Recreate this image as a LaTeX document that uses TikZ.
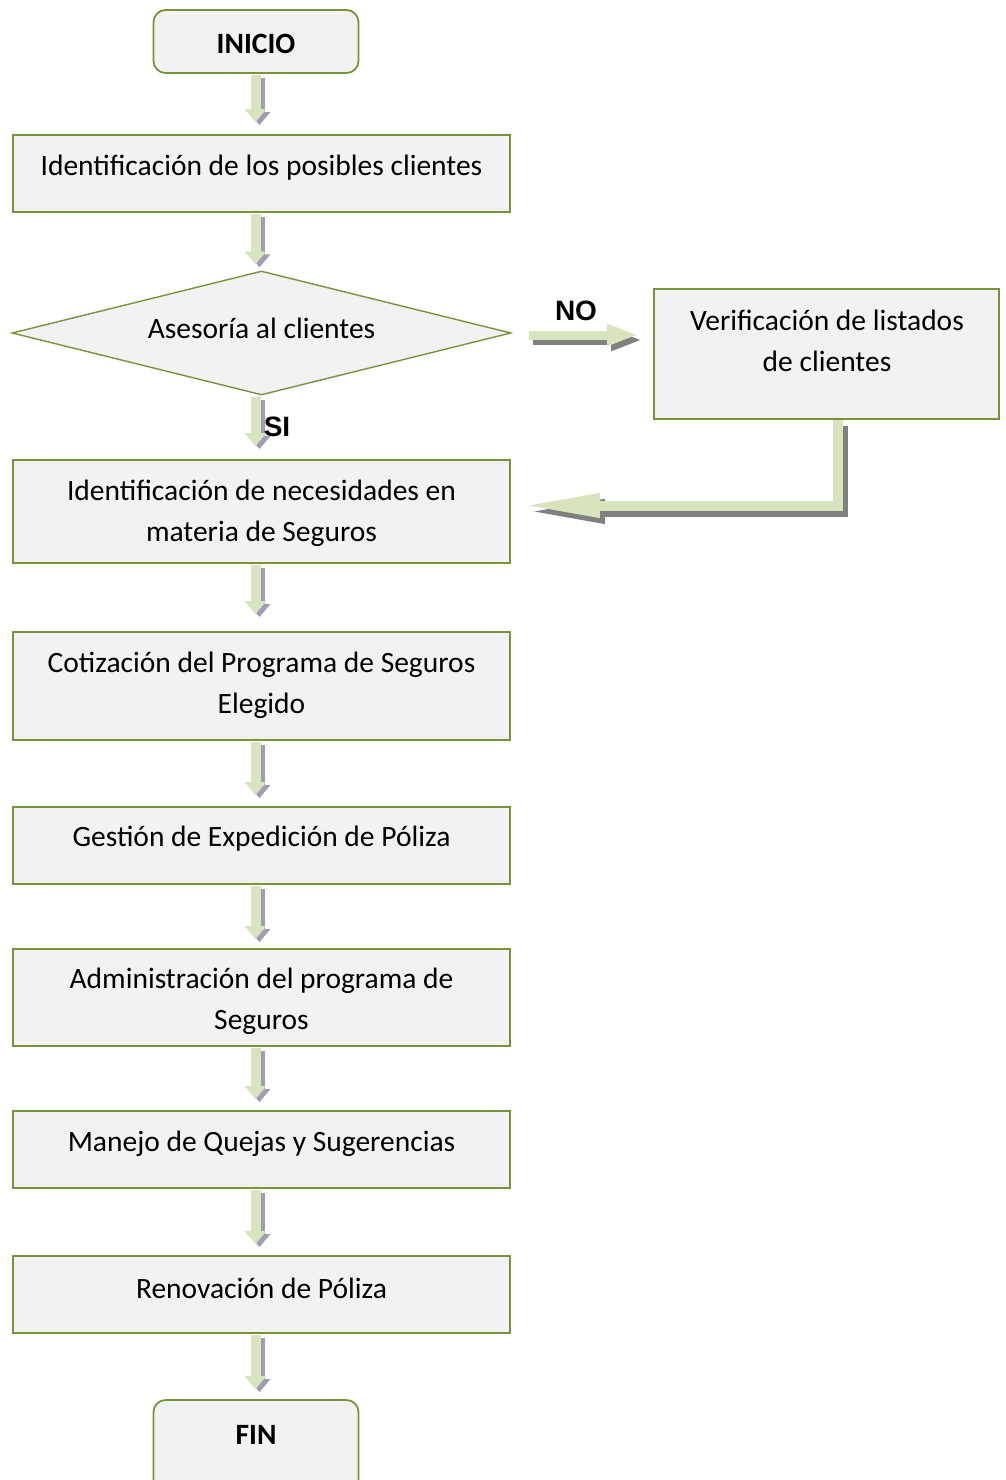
\documentclass[tikz,border=0pt]{standalone}
\usepackage{fontspec}
\setmainfont{Carlito}
\newfontfamily\labelfont{Liberation Sans}
\usetikzlibrary{arrows.meta,shapes.geometric,calc}
\definecolor{boxfill}{HTML}{F2F2F2}
\definecolor{boxline}{HTML}{77933C}
\definecolor{arrowgreen}{HTML}{D7E4BD}
\definecolor{shadowlav}{HTML}{A09CB4}
\definecolor{shadowgray}{HTML}{808080}

% block arrow pointing down from node #1 to node #2 (gap #3 above target)
\newcommand\downflow[3]{%
  \draw[flowdown, draw=shadowlav, transform canvas={shift={(4pt,-3pt)}}]
    ($(axis |- #1.south)+(0,1)$) -- ($(axis |- #2.north)+(0,-#3)$);
  \draw[flowdown, draw=arrowgreen]
    ($(axis |- #1.south)+(0,1)$) -- ($(axis |- #2.north)+(0,-#3)$);
}

\begin{document}
\begin{tikzpicture}[x=1pt,y=-1pt,
  font=\fontsize{29.5}{41}\selectfont,
  box/.style={draw=boxline, fill=boxfill, line width=1.8pt, minimum width=497, inner sep=0},
  terminal/.style={box, rounded corners=12pt, minimum width=205},
  txt/.style={align=center, inner sep=0},
  bold/.style={txt, font=\fontsize{29.5}{41}\selectfont\bfseries},
  decision/.style={txt, font=\fontsize{28}{34}\selectfont\labelfont\bfseries},
  flowdown/.style={line width=10pt, -{Triangle[length=13pt,width=21pt]}},
  flowside/.style={line width=9pt, line join=miter, -{Triangle[length=31pt,width=20pt]}},
  flowback/.style={line width=10pt, line join=miter, -{Triangle[length=78pt,width=22pt]}},
]
\useasboundingbox (0,0) rectangle (1006,1480);
\fill[white] (0,0) rectangle (1006,1480);
\clip (0,0) rectangle (1006,1480);

\coordinate (axis) at (255.5,0);

% terminals
\node[terminal, minimum height=63] (start) at (256,41.5) {};
\node[bold] (tstart) at (256,43.5) {INICIO};
\node[terminal, minimum height=92] (end) at (256,1446) {};
\node[bold] (tend) at (256,1434.5) {FIN};

% process boxes
\node[box, minimum height=77] (b1) at (261.5,173.5) {};
\node[txt] (t1) at (261.5,167.5) {Identificación de los posibles clientes};

\node[diamond, draw=boxline, fill=boxfill, line width=1.4pt, minimum width=499, minimum height=124, inner sep=0] (d) at (261.5,333) {};
\node[txt] (td) at (261.5,328) {Asesoría al clientes};

\node[box, minimum width=345, minimum height=130] (ver) at (826.5,354) {};
\node[txt] (tv) at (827,341) {Verificación de listados\\de clientes};

\node[box, minimum height=103] (b3) at (261.5,511.5) {};
\node[txt] (t3) at (261.5,513) {Identificación de necesidades en\\materia de Seguros};

\node[box, minimum height=108] (b4) at (261.5,686) {};
\node[txt] (t4) at (261.5,685) {Cotización del Programa de Seguros\\Elegido};

\node[box, minimum height=77] (b5) at (261.5,845.5) {};
\node[txt] (t5) at (261.5,838.5) {Gestión de Expedición de Póliza};

\node[box, minimum height=97] (b6) at (261.5,997.5) {};
\node[txt] (t6) at (261.5,1001.5) {Administración del programa de\\Seguros};

\node[box, minimum height=77] (b7) at (261.5,1149.5) {};
\node[txt] (t7) at (261.5,1143.5) {Manejo de Quejas y Sugerencias};

\node[box, minimum height=77] (b8) at (261.5,1294.5) {};
\node[txt] (t8) at (261.5,1288.5) {Renovación de Póliza};

% main flow
\downflow{start}{b1}{12}
\downflow{b1}{d}{6}
\downflow{d}{b3}{13}
\downflow{b3}{b4}{17}
\downflow{b4}{b5}{11}
\downflow{b5}{b6}{9}
\downflow{b6}{b7}{11}
\downflow{b7}{b8}{11}
\downflow{b8}{end}{10}

% branch NO
\draw[flowside, draw=shadowgray, transform canvas={shift={(4pt,-5pt)}}]
  ($(d.east)+(17,2)$) -- ($(ver.west |- d.east)+(-15,2)$);
\draw[flowside, draw=arrowgreen]
  ($(d.east)+(17,2)$) -- ($(ver.west |- d.east)+(-15,2)$);

% return to the main flow
\draw[flowback, draw=shadowgray, transform canvas={shift={(5pt,-6pt)}}]
  ($(ver.south)+(11.5,0)$) |- ($(b3.east)+(11,-6)$);
\draw[flowback, draw=arrowgreen]
  ($(ver.south)+(11.5,0)$) |- ($(b3.east)+(11,-6)$);

% branch labels
\node[decision] (no) at (576,311) {NO};
\node[decision] (si) at (277,427) {SI};
\end{tikzpicture}
\end{document}
